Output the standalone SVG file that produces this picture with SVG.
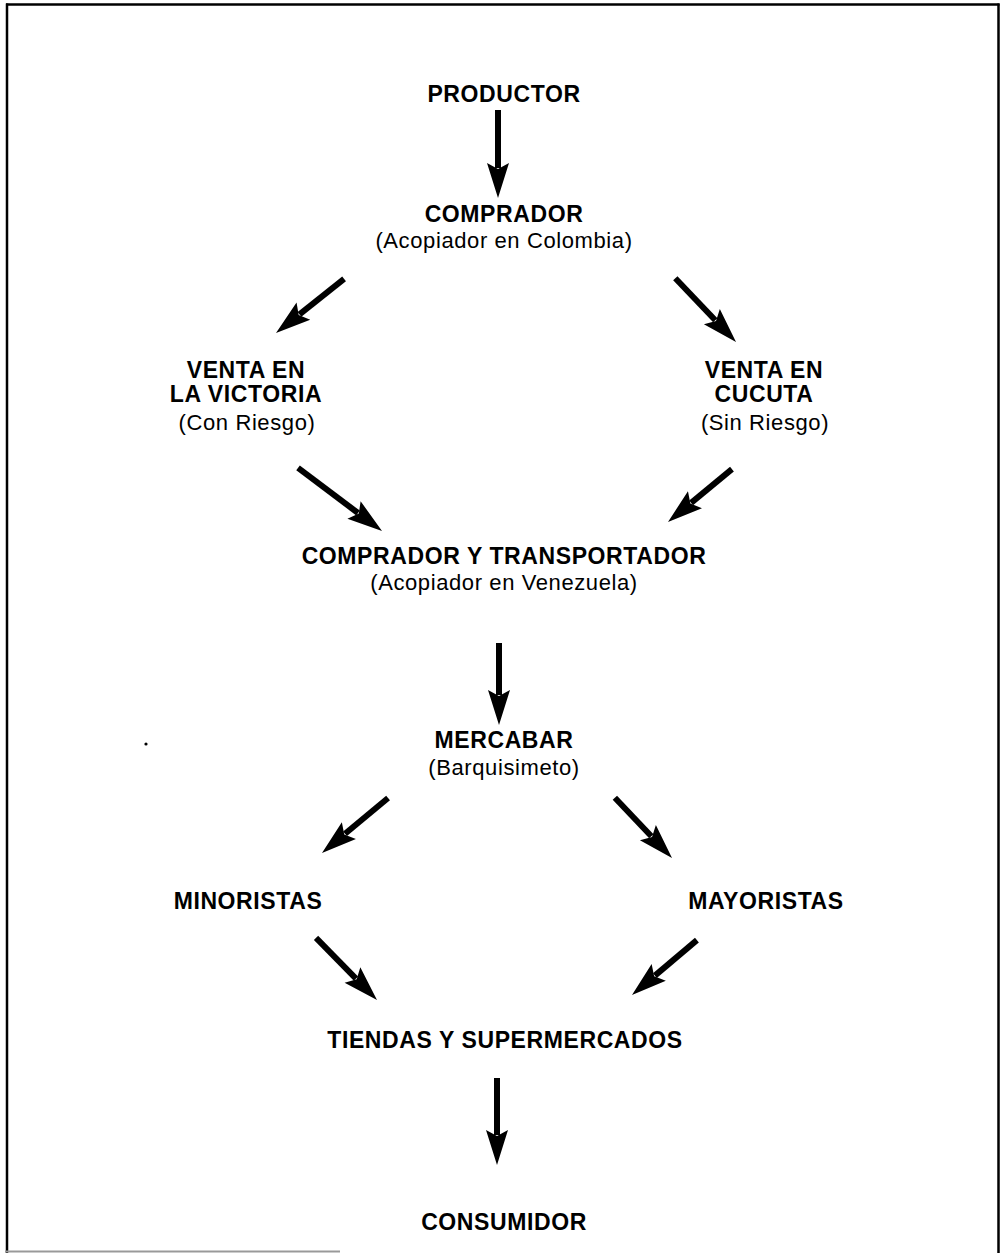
<svg xmlns="http://www.w3.org/2000/svg" xmlns:xlink="http://www.w3.org/1999/xlink" width="1001" height="1253" viewBox="0 0 1001 1253">
<style>
.t{font-family:"Liberation Sans",Arial,Helvetica,sans-serif;font-weight:bold;font-size:23px;letter-spacing:0.6px;fill:#000;text-anchor:middle}
.s{font-family:"Liberation Sans",Arial,Helvetica,sans-serif;font-size:22px;letter-spacing:0.6px;fill:#000;text-anchor:middle}
.sh{stroke:#000;stroke-width:6;fill:none}
.b{stroke:#000;stroke-width:2.5;fill:none}
</style>
<defs>
<path id="hd" d="M0,0 L-35,-11 L-29,0 L-35,11 Z" fill="#000"/>
</defs>
<rect x="0" y="0" width="1001" height="1253" fill="#fff"/>
<g id="frame">
<line class="b" x1="6" y1="4.5" x2="999.5" y2="4.5"/>
<line class="b" x1="7" y1="3.5" x2="7" y2="1253"/>
<line class="b" x1="998.5" y1="3.5" x2="998.5" y2="1253"/>
<line x1="5" y1="1251.5" x2="340" y2="1251.5" stroke="#999" stroke-width="2"/>
<circle cx="146" cy="744" r="1.6" fill="#000"/>
</g>
<g id="connectors">
<g transform="translate(498,198) rotate(90)"><line class="sh" x1="-88" y1="0" x2="-30" y2="0"/><use xlink:href="#hd"/></g>
<g transform="translate(276,333) rotate(141.5)"><line class="sh" x1="-87" y1="0" x2="-30" y2="0"/><use xlink:href="#hd"/></g>
<g transform="translate(736,342) rotate(46.4)"><line class="sh" x1="-88" y1="0" x2="-30" y2="0"/><use xlink:href="#hd"/></g>
<g transform="translate(382,531) rotate(36.9)"><line class="sh" x1="-105" y1="0" x2="-30" y2="0"/><use xlink:href="#hd"/></g>
<g transform="translate(668,522) rotate(140.4)"><line class="sh" x1="-83" y1="0" x2="-30" y2="0"/><use xlink:href="#hd"/></g>
<g transform="translate(499,725) rotate(90)"><line class="sh" x1="-82" y1="0" x2="-30" y2="0"/><use xlink:href="#hd"/></g>
<g transform="translate(322,853) rotate(140.2)"><line class="sh" x1="-86" y1="0" x2="-30" y2="0"/><use xlink:href="#hd"/></g>
<g transform="translate(672,858) rotate(46.5)"><line class="sh" x1="-83" y1="0" x2="-30" y2="0"/><use xlink:href="#hd"/></g>
<g transform="translate(377,1000) rotate(45.5)"><line class="sh" x1="-87" y1="0" x2="-30" y2="0"/><use xlink:href="#hd"/></g>
<g transform="translate(632,995) rotate(139.8)"><line class="sh" x1="-85" y1="0" x2="-30" y2="0"/><use xlink:href="#hd"/></g>
<g transform="translate(497,1165) rotate(90)"><line class="sh" x1="-87" y1="0" x2="-30" y2="0"/><use xlink:href="#hd"/></g>
</g>
<g id="productor"><text class="t" x="504" y="102">PRODUCTOR</text></g>
<g id="comprador"><text class="t" x="504" y="222">COMPRADOR</text><text class="s" x="504" y="248">(Acopiador en Colombia)</text></g>
<g id="victoria"><text class="t" x="246" y="378">VENTA EN</text><text class="t" x="246" y="402">LA VICTORIA</text><text class="s" x="247" y="430">(Con Riesgo)</text></g>
<g id="cucuta"><text class="t" x="764" y="378">VENTA EN</text><text class="t" x="764" y="402">CUCUTA</text><text class="s" x="765" y="430">(Sin Riesgo)</text></g>
<g id="transportador"><text class="t" x="504" y="564">COMPRADOR Y TRANSPORTADOR</text><text class="s" x="504" y="590">(Acopiador en Venezuela)</text></g>
<g id="mercabar"><text class="t" x="504" y="748">MERCABAR</text><text class="s" x="504" y="775">(Barquisimeto)</text></g>
<g id="minoristas"><text class="t" x="248" y="909">MINORISTAS</text></g>
<g id="mayoristas"><text class="t" x="766" y="909">MAYORISTAS</text></g>
<g id="tiendas"><text class="t" x="505" y="1048">TIENDAS Y SUPERMERCADOS</text></g>
<g id="consumidor"><text class="t" x="504" y="1230">CONSUMIDOR</text></g>
</svg>
